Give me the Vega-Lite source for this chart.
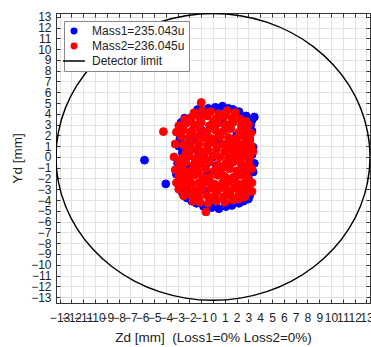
{
  "$schema": "https://vega.github.io/schema/vega-lite/v6.json",
  "width": 314,
  "height": 290,
  "autosize": {"type": "none"},
  "padding": {"left": 56, "top": 13, "right": 1, "bottom": 44},
  "background": "white",
  "config": {
    "font": "Liberation Sans",
    "view": {"stroke": "#333", "strokeWidth": 1},
    "axis": {
      "gridColor": "#e2e2e2",
      "gridWidth": 1,
      "domainColor": "#333",
      "tickColor": "#333",
      "tickSize": -4,
      "labelPadding": 9,
      "labelFont": "Liberation Sans",
      "labelFontSize": 12,
      "labelColor": "#222",
      "labelOverlap": false,
      "titleFont": "Liberation Sans",
      "titleFontSize": 13.5,
      "titleFontWeight": "normal",
      "titleColor": "#222"
    },
    "legend": {
      "orient": "top-left",
      "offset": 8,
      "padding": 4,
      "strokeColor": "#888",
      "fillColor": "white",
      "labelFont": "Liberation Sans",
      "labelFontSize": 12,
      "labelColor": "#222",
      "symbolSize": 30,
      "symbolStrokeWidth": 1.5,
      "labelOffset": 12,
      "rowPadding": 3
    }
  },
  "layer": [
    {
      "data": {"values": [
        {"m":"Detector limit","a":0,"x":13.3,"y":0},
        {"m":"Detector limit","a":1,"x":13.098,"y":2.309},
        {"m":"Detector limit","a":2,"x":12.498,"y":4.549},
        {"m":"Detector limit","a":3,"x":11.518,"y":6.65},
        {"m":"Detector limit","a":4,"x":10.188,"y":8.549},
        {"m":"Detector limit","a":5,"x":8.549,"y":10.188},
        {"m":"Detector limit","a":6,"x":6.65,"y":11.518},
        {"m":"Detector limit","a":7,"x":4.549,"y":12.498},
        {"m":"Detector limit","a":8,"x":2.309,"y":13.098},
        {"m":"Detector limit","a":9,"x":0,"y":13.3},
        {"m":"Detector limit","a":10,"x":-2.309,"y":13.098},
        {"m":"Detector limit","a":11,"x":-4.549,"y":12.498},
        {"m":"Detector limit","a":12,"x":-6.65,"y":11.518},
        {"m":"Detector limit","a":13,"x":-8.549,"y":10.188},
        {"m":"Detector limit","a":14,"x":-10.188,"y":8.549},
        {"m":"Detector limit","a":15,"x":-11.518,"y":6.65},
        {"m":"Detector limit","a":16,"x":-12.498,"y":4.549},
        {"m":"Detector limit","a":17,"x":-13.098,"y":2.309},
        {"m":"Detector limit","a":18,"x":-13.3,"y":0},
        {"m":"Detector limit","a":19,"x":-13.098,"y":-2.309},
        {"m":"Detector limit","a":20,"x":-12.498,"y":-4.549},
        {"m":"Detector limit","a":21,"x":-11.518,"y":-6.65},
        {"m":"Detector limit","a":22,"x":-10.188,"y":-8.549},
        {"m":"Detector limit","a":23,"x":-8.549,"y":-10.188},
        {"m":"Detector limit","a":24,"x":-6.65,"y":-11.518},
        {"m":"Detector limit","a":25,"x":-4.549,"y":-12.498},
        {"m":"Detector limit","a":26,"x":-2.309,"y":-13.098},
        {"m":"Detector limit","a":27,"x":0,"y":-13.3},
        {"m":"Detector limit","a":28,"x":2.309,"y":-13.098},
        {"m":"Detector limit","a":29,"x":4.549,"y":-12.498},
        {"m":"Detector limit","a":30,"x":6.65,"y":-11.518},
        {"m":"Detector limit","a":31,"x":8.549,"y":-10.188},
        {"m":"Detector limit","a":32,"x":10.188,"y":-8.549},
        {"m":"Detector limit","a":33,"x":11.518,"y":-6.65},
        {"m":"Detector limit","a":34,"x":12.498,"y":-4.549},
        {"m":"Detector limit","a":35,"x":13.098,"y":-2.309}
      ]},
      "mark": {"type": "line", "strokeWidth": 1.4, "interpolate": "cardinal-closed", "clip": true},
      "encoding": {
        "x": {"field": "x", "type": "quantitative",
              "scale": {"domain": [-13.3, 13.3], "nice": false, "zero": false},
              "axis": {"orient": "bottom", "grid": true, "title": "Zd [mm]\u00a0 (Loss1=0% Loss2=0%)",
                       "values": [-13,-12,-11,-10,-9,-8,-7,-6,-5,-4,-3,-2,-1,0,1,2,3,4,5,6,7,8,9,10,11,12,13],
                       "labelPadding": 13, "titlePadding": 7}},
        "y": {"field": "y", "type": "quantitative",
              "scale": {"domain": [-13.55, 13.35], "nice": false, "zero": false},
              "axis": {"orient": "left", "grid": true, "title": "Yd [mm]",
                       "values": [-13,-12,-11,-10,-9,-8,-7,-6,-5,-4,-3,-2,-1,0,1,2,3,4,5,6,7,8,9,10,11,12,13],
                       "titlePadding": 6}},
        "order": {"field": "a", "type": "quantitative"},
        "stroke": {"field": "m", "type": "nominal",
                   "scale": {"domain": ["Mass1=235.043u", "Mass2=236.045u", "Detector limit"], "range": ["#0000ff", "#ff0000", "#000000"]},
                   "legend": {"title": null}}
      }
    },
    {
      "data": {"values": [
        {"m":"Mass1=235.043u","x":-5.8,"y":-0.3},
        {"m":"Mass1=235.043u","x":-4.0,"y":-2.5},
        {"m":"Mass1=235.043u","x":3.5,"y":-0.6},
        {"m":"Mass1=235.043u","x":3.3,"y":3.4},
        {"m":"Mass1=235.043u","x":3.5,"y":3.7},
        {"m":"Mass1=235.043u","x":3.2,"y":3.0},
        {"m":"Mass1=235.043u","x":3.3,"y":2.4},
        {"m":"Mass1=235.043u","x":3.1,"y":1.6},
        {"m":"Mass1=235.043u","x":3.4,"y":0.9},
        {"m":"Mass1=235.043u","x":3.3,"y":0.2},
        {"m":"Mass1=235.043u","x":3.2,"y":-1.0},
        {"m":"Mass1=235.043u","x":3.4,"y":-1.4},
        {"m":"Mass1=235.043u","x":3.0,"y":-2.0},
        {"m":"Mass1=235.043u","x":3.1,"y":-3.6},
        {"m":"Mass1=235.043u","x":3.0,"y":-3.9},
        {"m":"Mass1=235.043u","x":2.6,"y":-4.1},
        {"m":"Mass1=235.043u","x":2.8,"y":3.8},
        {"m":"Mass1=235.043u","x":2.2,"y":4.2},
        {"m":"Mass1=235.043u","x":0.2,"y":4.6},
        {"m":"Mass1=235.043u","x":0.8,"y":4.7},
        {"m":"Mass1=235.043u","x":1.3,"y":4.5},
        {"m":"Mass1=235.043u","x":-0.4,"y":4.5},
        {"m":"Mass1=235.043u","x":-1.3,"y":4.4},
        {"m":"Mass1=235.043u","x":-0.9,"y":4.3},
        {"m":"Mass1=235.043u","x":1.7,"y":4.4},
        {"m":"Mass1=235.043u","x":0.5,"y":-4.8},
        {"m":"Mass1=235.043u","x":1.1,"y":-4.6},
        {"m":"Mass1=235.043u","x":-0.1,"y":-4.7},
        {"m":"Mass1=235.043u","x":1.6,"y":-4.5},
        {"m":"Mass1=235.043u","x":2.2,"y":-4.3},
        {"m":"Mass1=235.043u","x":-0.8,"y":-4.6},
        {"m":"Mass1=235.043u","x":-1.4,"y":-4.3},
        {"m":"Mass1=235.043u","x":-2.8,"y":1.7},
        {"m":"Mass1=235.043u","x":-2.9,"y":1.0},
        {"m":"Mass1=235.043u","x":-2.6,"y":0.4},
        {"m":"Mass1=235.043u","x":-2.7,"y":3.2},
        {"m":"Mass1=235.043u","x":-2.4,"y":3.6},
        {"m":"Mass1=235.043u","x":-3.0,"y":-0.6},
        {"m":"Mass1=235.043u","x":-3.1,"y":-1.6},
        {"m":"Mass1=235.043u","x":-2.9,"y":-2.4},
        {"m":"Mass1=235.043u","x":-2.6,"y":-3.3},
        {"m":"Mass1=235.043u","x":-2.2,"y":-3.8},
        {"m":"Mass1=235.043u","x":-1.8,"y":-4.1},
        {"m":"Mass1=235.043u","x":-1.3,"y":0.6},
        {"m":"Mass1=235.043u","x":0.0,"y":0.0},
        {"m":"Mass1=235.043u","x":0.5,"y":1.5},
        {"m":"Mass1=235.043u","x":-0.5,"y":-1.5},
        {"m":"Mass1=235.043u","x":1.5,"y":-0.5},
        {"m":"Mass1=235.043u","x":2.0,"y":2.0},
        {"m":"Mass1=235.043u","x":-1.0,"y":2.5},
        {"m":"Mass1=235.043u","x":1.0,"y":-2.5},
        {"m":"Mass1=235.043u","x":-2.0,"y":-1.0},
        {"m":"Mass1=235.043u","x":2.5,"y":1.0},
        {"m":"Mass1=235.043u","x":0.8,"y":3.2},
        {"m":"Mass1=235.043u","x":-0.6,"y":-3.2},
        {"m":"Mass1=235.043u","x":1.8,"y":-2.0},
        {"m":"Mass1=235.043u","x":-1.6,"y":1.8},
        {"m":"Mass1=235.043u","x":2.4,"y":-1.2},
        {"m":"Mass1=235.043u","x":0.3,"y":-0.8},
        {"m":"Mass2=236.045u","x":-1.6,"y":4.1},
        {"m":"Mass2=236.045u","x":-0.9,"y":4.3},
        {"m":"Mass2=236.045u","x":-0.2,"y":4.2},
        {"m":"Mass2=236.045u","x":0.5,"y":4.0},
        {"m":"Mass2=236.045u","x":1.2,"y":4.3},
        {"m":"Mass2=236.045u","x":1.9,"y":4.1},
        {"m":"Mass2=236.045u","x":-2.4,"y":3.5},
        {"m":"Mass2=236.045u","x":-1.8,"y":3.7},
        {"m":"Mass2=236.045u","x":-1.1,"y":3.6},
        {"m":"Mass2=236.045u","x":-0.5,"y":3.8},
        {"m":"Mass2=236.045u","x":0.2,"y":3.5},
        {"m":"Mass2=236.045u","x":0.9,"y":3.7},
        {"m":"Mass2=236.045u","x":1.6,"y":3.6},
        {"m":"Mass2=236.045u","x":2.3,"y":3.5},
        {"m":"Mass2=236.045u","x":2.8,"y":3.3},
        {"m":"Mass2=236.045u","x":-2.9,"y":2.9},
        {"m":"Mass2=236.045u","x":-2.3,"y":3.1},
        {"m":"Mass2=236.045u","x":-1.6,"y":3.0},
        {"m":"Mass2=236.045u","x":-1.0,"y":3.2},
        {"m":"Mass2=236.045u","x":-0.3,"y":2.9},
        {"m":"Mass2=236.045u","x":0.4,"y":3.1},
        {"m":"Mass2=236.045u","x":1.1,"y":3.0},
        {"m":"Mass2=236.045u","x":1.7,"y":3.2},
        {"m":"Mass2=236.045u","x":2.4,"y":2.9},
        {"m":"Mass2=236.045u","x":3.0,"y":3.0},
        {"m":"Mass2=236.045u","x":-3.1,"y":2.3},
        {"m":"Mass2=236.045u","x":-2.5,"y":2.5},
        {"m":"Mass2=236.045u","x":-1.8,"y":2.4},
        {"m":"Mass2=236.045u","x":-1.1,"y":2.6},
        {"m":"Mass2=236.045u","x":-0.5,"y":2.3},
        {"m":"Mass2=236.045u","x":0.2,"y":2.5},
        {"m":"Mass2=236.045u","x":0.9,"y":2.4},
        {"m":"Mass2=236.045u","x":1.5,"y":2.6},
        {"m":"Mass2=236.045u","x":2.2,"y":2.3},
        {"m":"Mass2=236.045u","x":2.8,"y":2.5},
        {"m":"Mass2=236.045u","x":3.2,"y":2.2},
        {"m":"Mass2=236.045u","x":-2.7,"y":1.9},
        {"m":"Mass2=236.045u","x":-2.1,"y":1.7},
        {"m":"Mass2=236.045u","x":-1.4,"y":1.9},
        {"m":"Mass2=236.045u","x":-0.8,"y":1.8},
        {"m":"Mass2=236.045u","x":-0.1,"y":1.7},
        {"m":"Mass2=236.045u","x":0.6,"y":1.9},
        {"m":"Mass2=236.045u","x":1.3,"y":1.8},
        {"m":"Mass2=236.045u","x":1.9,"y":1.7},
        {"m":"Mass2=236.045u","x":2.6,"y":1.9},
        {"m":"Mass2=236.045u","x":3.1,"y":1.8},
        {"m":"Mass2=236.045u","x":-3.2,"y":1.2},
        {"m":"Mass2=236.045u","x":-2.5,"y":1.1},
        {"m":"Mass2=236.045u","x":-1.9,"y":1.3},
        {"m":"Mass2=236.045u","x":-1.2,"y":1.2},
        {"m":"Mass2=236.045u","x":-0.5,"y":1.1},
        {"m":"Mass2=236.045u","x":0.1,"y":1.3},
        {"m":"Mass2=236.045u","x":0.8,"y":1.2},
        {"m":"Mass2=236.045u","x":1.4,"y":1.1},
        {"m":"Mass2=236.045u","x":2.1,"y":1.3},
        {"m":"Mass2=236.045u","x":2.7,"y":1.2},
        {"m":"Mass2=236.045u","x":3.2,"y":1.1},
        {"m":"Mass2=236.045u","x":-2.2,"y":0.6},
        {"m":"Mass2=236.045u","x":-1.7,"y":0.7},
        {"m":"Mass2=236.045u","x":-1.0,"y":0.5},
        {"m":"Mass2=236.045u","x":-0.4,"y":0.6},
        {"m":"Mass2=236.045u","x":0.3,"y":0.7},
        {"m":"Mass2=236.045u","x":1.0,"y":0.5},
        {"m":"Mass2=236.045u","x":1.6,"y":0.6},
        {"m":"Mass2=236.045u","x":2.3,"y":0.7},
        {"m":"Mass2=236.045u","x":2.9,"y":0.5},
        {"m":"Mass2=236.045u","x":-3.3,"y":0.0},
        {"m":"Mass2=236.045u","x":-2.6,"y":-0.1},
        {"m":"Mass2=236.045u","x":-2.0,"y":0.1},
        {"m":"Mass2=236.045u","x":-1.3,"y":0.0},
        {"m":"Mass2=236.045u","x":-0.7,"y":-0.1},
        {"m":"Mass2=236.045u","x":0.0,"y":0.1},
        {"m":"Mass2=236.045u","x":0.6,"y":0.0},
        {"m":"Mass2=236.045u","x":1.3,"y":-0.1},
        {"m":"Mass2=236.045u","x":1.9,"y":0.1},
        {"m":"Mass2=236.045u","x":2.5,"y":0.0},
        {"m":"Mass2=236.045u","x":3.1,"y":-0.1},
        {"m":"Mass2=236.045u","x":-2.9,"y":-0.6},
        {"m":"Mass2=236.045u","x":-2.3,"y":-0.5},
        {"m":"Mass2=236.045u","x":-1.6,"y":-0.7},
        {"m":"Mass2=236.045u","x":-1.0,"y":-0.6},
        {"m":"Mass2=236.045u","x":-0.3,"y":-0.5},
        {"m":"Mass2=236.045u","x":0.4,"y":-0.7},
        {"m":"Mass2=236.045u","x":1.1,"y":-0.6},
        {"m":"Mass2=236.045u","x":1.7,"y":-0.5},
        {"m":"Mass2=236.045u","x":2.4,"y":-0.7},
        {"m":"Mass2=236.045u","x":3.0,"y":-0.6},
        {"m":"Mass2=236.045u","x":-3.2,"y":-1.2},
        {"m":"Mass2=236.045u","x":-2.6,"y":-1.1},
        {"m":"Mass2=236.045u","x":-1.9,"y":-1.3},
        {"m":"Mass2=236.045u","x":-1.3,"y":-1.2},
        {"m":"Mass2=236.045u","x":-0.6,"y":-1.1},
        {"m":"Mass2=236.045u","x":0.1,"y":-1.3},
        {"m":"Mass2=236.045u","x":0.7,"y":-1.2},
        {"m":"Mass2=236.045u","x":1.4,"y":-1.1},
        {"m":"Mass2=236.045u","x":2.0,"y":-1.3},
        {"m":"Mass2=236.045u","x":2.7,"y":-1.2},
        {"m":"Mass2=236.045u","x":3.3,"y":-1.1},
        {"m":"Mass2=236.045u","x":-2.9,"y":-1.8},
        {"m":"Mass2=236.045u","x":-2.2,"y":-1.9},
        {"m":"Mass2=236.045u","x":-1.6,"y":-1.7},
        {"m":"Mass2=236.045u","x":-0.9,"y":-1.8},
        {"m":"Mass2=236.045u","x":-0.3,"y":-1.9},
        {"m":"Mass2=236.045u","x":0.4,"y":-1.7},
        {"m":"Mass2=236.045u","x":1.0,"y":-1.8},
        {"m":"Mass2=236.045u","x":1.7,"y":-1.9},
        {"m":"Mass2=236.045u","x":2.3,"y":-1.7},
        {"m":"Mass2=236.045u","x":2.9,"y":-1.8},
        {"m":"Mass2=236.045u","x":-3.1,"y":-2.4},
        {"m":"Mass2=236.045u","x":-2.5,"y":-2.3},
        {"m":"Mass2=236.045u","x":-1.8,"y":-2.5},
        {"m":"Mass2=236.045u","x":-1.2,"y":-2.4},
        {"m":"Mass2=236.045u","x":-0.5,"y":-2.3},
        {"m":"Mass2=236.045u","x":0.1,"y":-2.5},
        {"m":"Mass2=236.045u","x":0.8,"y":-2.4},
        {"m":"Mass2=236.045u","x":1.4,"y":-2.3},
        {"m":"Mass2=236.045u","x":2.1,"y":-2.5},
        {"m":"Mass2=236.045u","x":2.7,"y":-2.4},
        {"m":"Mass2=236.045u","x":3.3,"y":-2.4},
        {"m":"Mass2=236.045u","x":-2.9,"y":-3.0},
        {"m":"Mass2=236.045u","x":-2.2,"y":-2.9},
        {"m":"Mass2=236.045u","x":-1.5,"y":-3.1},
        {"m":"Mass2=236.045u","x":-0.9,"y":-3.0},
        {"m":"Mass2=236.045u","x":-0.2,"y":-2.9},
        {"m":"Mass2=236.045u","x":0.4,"y":-3.1},
        {"m":"Mass2=236.045u","x":1.1,"y":-3.0},
        {"m":"Mass2=236.045u","x":1.8,"y":-2.9},
        {"m":"Mass2=236.045u","x":2.4,"y":-3.1},
        {"m":"Mass2=236.045u","x":2.9,"y":-3.0},
        {"m":"Mass2=236.045u","x":-2.5,"y":-3.6},
        {"m":"Mass2=236.045u","x":-1.9,"y":-3.5},
        {"m":"Mass2=236.045u","x":-1.2,"y":-3.7},
        {"m":"Mass2=236.045u","x":-0.5,"y":-3.6},
        {"m":"Mass2=236.045u","x":0.2,"y":-3.5},
        {"m":"Mass2=236.045u","x":0.9,"y":-3.7},
        {"m":"Mass2=236.045u","x":1.5,"y":-3.6},
        {"m":"Mass2=236.045u","x":2.2,"y":-3.5},
        {"m":"Mass2=236.045u","x":2.7,"y":-3.7},
        {"m":"Mass2=236.045u","x":-1.7,"y":-4.1},
        {"m":"Mass2=236.045u","x":-1.1,"y":-4.2},
        {"m":"Mass2=236.045u","x":-0.4,"y":-4.3},
        {"m":"Mass2=236.045u","x":0.3,"y":-4.1},
        {"m":"Mass2=236.045u","x":1.0,"y":-4.2},
        {"m":"Mass2=236.045u","x":1.7,"y":-4.0},
        {"m":"Mass2=236.045u","x":2.2,"y":-3.9},
        {"m":"Mass2=236.045u","x":-4.2,"y":2.35},
        {"m":"Mass2=236.045u","x":-1.0,"y":5.05},
        {"m":"Mass2=236.045u","x":-0.6,"y":-5.1},
        {"m":"Mass2=236.045u","x":3.3,"y":-3.2},
        {"m":"Mass2=236.045u","x":3.4,"y":0.5},
        {"m":"Mass2=236.045u","x":-2.0,"y":-2.1},
        {"m":"Mass2=236.045u","x":0.5,"y":2.1},
        {"m":"Mass2=236.045u","x":1.2,"y":-2.1},
        {"m":"Mass2=236.045u","x":-0.8,"y":0.3},
        {"m":"Mass2=236.045u","x":2.2,"y":-0.3},
        {"m":"Mass2=236.045u","x":-2.4,"y":-1.5},
        {"m":"Mass2=236.045u","x":1.0,"y":3.9},
        {"m":"Mass2=236.045u","x":-1.5,"y":-0.3},
        {"m":"Mass2=236.045u","x":0.9,"y":-0.9},
        {"m":"Mass2=236.045u","x":-0.2,"y":1.4},
        {"m":"Mass2=236.045u","x":1.8,"y":1.0},
        {"m":"Mass2=236.045u","x":-1.9,"y":2.1},
        {"m":"Mass2=236.045u","x":0.6,"y":-2.8},
        {"m":"Mass2=236.045u","x":-0.9,"y":-2.6},
        {"m":"Mass2=236.045u","x":2.5,"y":-2.7},
        {"m":"Mass2=236.045u","x":-2.7,"y":-2.7},
        {"m":"Mass2=236.045u","x":2.6,"y":2.7},
        {"m":"Mass2=236.045u","x":-2.0,"y":3.3},
        {"m":"Mass2=236.045u","x":0.1,"y":-3.9},
        {"m":"Mass2=236.045u","x":-0.6,"y":4.0},
        {"m":"Mass2=236.045u","x":-1.3,"y":-1.5},
        {"m":"Mass2=236.045u","x":0.4,"y":-1.5},
        {"m":"Mass2=236.045u","x":1.4,"y":1.5},
        {"m":"Mass2=236.045u","x":-0.7,"y":2.0},
        {"m":"Mass2=236.045u","x":2.0,"y":0.4},
        {"m":"Mass2=236.045u","x":-2.3,"y":0.3},
        {"m":"Mass2=236.045u","x":1.4,"y":-3.3},
        {"m":"Mass2=236.045u","x":-1.5,"y":-3.4},
        {"m":"Mass2=236.045u","x":0.0,"y":3.3},
        {"m":"Mass2=236.045u","x":1.3,"y":2.8}
      ]},
      "mark": {"type": "point", "filled": true, "size": 62, "strokeWidth": 1, "opacity": 1},
      "encoding": {
        "x": {"field": "x", "type": "quantitative",
              "scale": {"domain": [-13.3, 13.3], "nice": false, "zero": false},
              "axis": {"orient": "top", "labels": false, "title": null, "grid": false,
                       "values": [-13,-12,-11,-10,-9,-8,-7,-6,-5,-4,-3,-2,-1,0,1,2,3,4,5,6,7,8,9,10,11,12,13]}},
        "y": {"field": "y", "type": "quantitative",
              "scale": {"domain": [-13.55, 13.35], "nice": false, "zero": false},
              "axis": {"orient": "right", "labels": false, "title": null, "grid": false,
                       "values": [-13,-12,-11,-10,-9,-8,-7,-6,-5,-4,-3,-2,-1,0,1,2,3,4,5,6,7,8,9,10,11,12,13]}},
        "fill": {"field": "m", "type": "nominal",
                 "scale": {"domain": ["Mass1=235.043u", "Mass2=236.045u", "Detector limit"], "range": ["#0000ff", "#ff0000", "#000000"]},
                 "legend": {"title": null}},
        "stroke": {"field": "m", "type": "nominal", "legend": {"title": null}},
        "shape": {"field": "m", "type": "nominal",
                  "scale": {"domain": ["Mass1=235.043u", "Mass2=236.045u", "Detector limit"], "range": ["circle", "circle", "M-4,0L4,0"]},
                  "legend": {"title": null}}
      }
    }
  ]
}
